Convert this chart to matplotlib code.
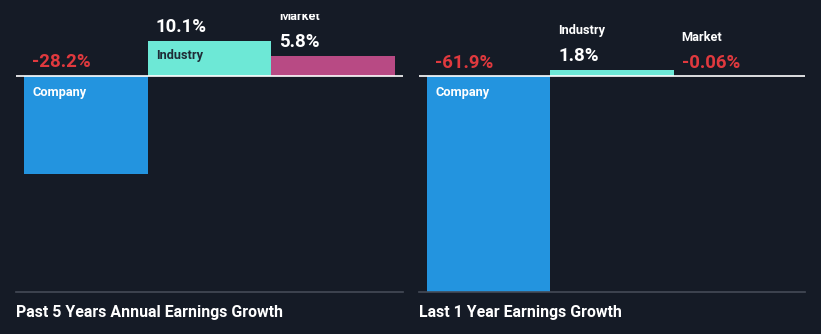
import matplotlib
matplotlib.use('Agg')
import matplotlib.pyplot as plt

# growth figures, in percent
names = ['Company', 'Industry', 'Market']
past5 = [-28.2, 10.1, 5.8]
last1 = [-61.9, 1.8, -0.06]
past5_lbl = ['-28.2%', '10.1%', '5.8%']
last1_lbl = ['-61.9%', '1.8%', '-0.06%']
titles = ['Past 5 Years Annual Earnings Growth', 'Last 1 Year Earnings Growth']

BG = '#151b26'
COLS = ['#2394df', '#6de8d6', '#b84a84']
RED = '#e0393e'
W, H = 821, 334

plt.rcParams['font.family'] = ['Roboto', 'DejaVu Sans']
fig = plt.figure(figsize=(W / 100, H / 100), dpi=100, facecolor=BG)

def panel(x0, x1, vals, lbls, ylim, title):
    top, bot = 14, 292
    ax = fig.add_axes([x0 / W, (H - bot) / H, (x1 - x0) / W, (bot - top) / H])
    ax.set_facecolor(BG)
    ax.bar(range(3), vals, width=1.0, color=COLS, linewidth=0)
    ax.set_xlim(-0.565, 2.565)
    ax.set_ylim(*ylim)
    ax.axhline(0, color='white', lw=1.2)
    for s in ['top', 'left', 'right']:
        ax.spines[s].set_visible(False)
    ax.spines['bottom'].set_color('#454b57')
    ax.spines['bottom'].set_linewidth(1.2)
    ax.set_xticks([])
    ax.set_yticks([])
    pxu = 278 / (ylim[1] - ylim[0])  # pixels per percent
    for i, (v, lb, nm) in enumerate(zip(vals, lbls, names)):
        base = max(v, 0)
        vcol = RED if v < 0 else 'white'
        t = ax.annotate(lb, (i - 0.5, base), xytext=(8, 13.5), textcoords='offset pixels',
                        color=vcol, fontsize=13.4, fontweight='bold', va='center')
        t.set_clip_path(ax.patch)
        if abs(v) * pxu > 25:
            ncol = 'white' if v < 0 else '#1f2b36'
            yoff = -16.5 if v < 0 else -15
            t = ax.annotate(nm, (i - 0.5, v if v > 0 else 0), xytext=(8, yoff), textcoords='offset pixels',
                            color=ncol, fontsize=9.2, fontweight='bold', va='center')
        else:
            t = ax.annotate(nm, (i - 0.5, base), xytext=(8, 39), textcoords='offset pixels',
                            color='white', fontsize=9.2, fontweight='bold', va='center')
        t.set_clip_path(ax.patch)
    fig.text(x0 / W, 1 - 312 / H, title, color='white', fontsize=11.4,
             fontweight='bold', va='center', ha='left')
    return ax

panel(16, 403, past5, past5_lbl, (-62.1, 17.8), titles[0])
panel(419, 805, last1, last1_lbl, (-61.9, 17.8), titles[1])

fig.savefig('out.png', dpi=100, facecolor=BG)
